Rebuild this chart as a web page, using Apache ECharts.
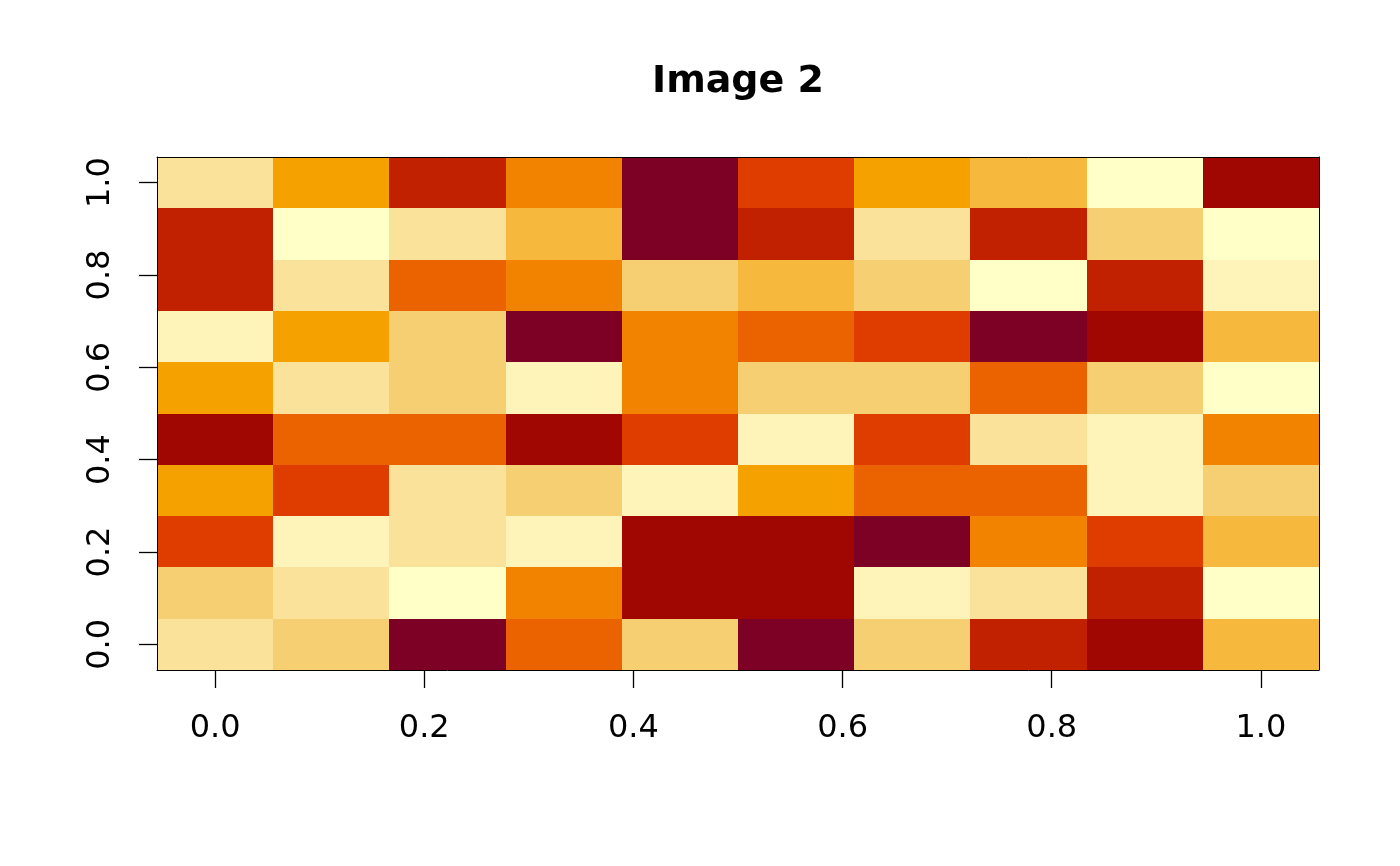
<!DOCTYPE html>
<html>
<head>
<meta charset="utf-8">
<script src="https://cdn.jsdelivr.net/npm/echarts@6/dist/echarts.min.js"></script>
<style>html,body{margin:0;padding:0;background:#fff}#c{width:1400px;height:866px}</style>
</head>
<body>
<div id="c"></div>
<script>
// Grid coordinates (R image(): 10 x 10 cells over [0,1])
const xValues = [0, 1/9, 2/9, 3/9, 4/9, 5/9, 6/9, 7/9, 8/9, 1];
const yValues = [0, 1/9, 2/9, 3/9, 4/9, 5/9, 6/9, 7/9, 8/9, 1];
// z levels (1 = darkest, 12 = palest); rows listed from y = 0 (bottom) to y = 1 (top)
const zRows = [
  [10, 9, 1, 5, 9, 1, 9, 3, 2, 8],
  [9, 10, 12, 6, 2, 2, 11, 10, 3, 12],
  [4, 11, 10, 11, 2, 2, 1, 6, 4, 8],
  [7, 4, 10, 9, 11, 7, 5, 5, 11, 9],
  [2, 5, 5, 2, 4, 11, 4, 10, 11, 6],
  [7, 10, 9, 11, 6, 9, 9, 5, 9, 12],
  [11, 7, 9, 1, 6, 5, 4, 1, 2, 8],
  [3, 10, 5, 6, 9, 8, 9, 12, 3, 11],
  [3, 12, 10, 8, 1, 3, 10, 3, 9, 12],
  [10, 7, 3, 6, 1, 4, 7, 8, 12, 2]
];
const palette = ['#7D0025', '#A10702', '#C22100', '#DF3C00', '#EB6200', '#F28300',
                 '#F5A200', '#F7B93D', '#F6CF73', '#FAE29A', '#FEF3B8', '#FFFFC8'];
const tickValues = [0, 0.2, 0.4, 0.6, 0.8, 1.0];
const titleText = 'Image 2';

const data = [];
for (let j = 0; j < yValues.length; j++) {
  for (let i = 0; i < xValues.length; i++) {
    data.push([xValues[i], yValues[j], zRows[j][i]]);
  }
}
const half = 1 / 18;
const FONT = 'DejaVu Sans';

const chart = echarts.init(document.getElementById('c'), null, {renderer: 'canvas'});
const axisCommon = {
  type: 'value', min: -half, max: 1 + half, z: 5,
  splitLine: {show: false}
};
chart.setOption({
  animation: false,
  backgroundColor: '#fff',
  title: {
    text: titleText, left: 733, top: 58, textAlign: 'center',
    textStyle: {fontFamily: FONT, fontWeight: 'bold', fontSize: 38, color: '#000'}
  },
  grid: {left: 157, right: 81, top: 157, bottom: 196, containLabel: false},
  visualMap: {
    type: 'piecewise', show: false, dimension: 2, seriesIndex: 0,
    pieces: palette.map((c, k) => ({value: k + 1, color: c}))
  },
  xAxis: [
    Object.assign({}, axisCommon, {
      position: 'bottom',
      axisLine: {show: true, onZero: false, lineStyle: {color: '#000', width: 1}},
      axisTick: {show: true, length: 18, lineStyle: {color: '#000', width: 1.3}, customValues: tickValues},
      axisLabel: {show: true, margin: 43, fontFamily: FONT, fontSize: 32, color: '#000',
        customValues: tickValues, formatter: v => v.toFixed(1)}
    }),
    Object.assign({}, axisCommon, {
      position: 'top',
      axisLine: {show: true, onZero: false, lineStyle: {color: '#000', width: 1}},
      axisTick: {show: false}, axisLabel: {show: false}
    })
  ],
  yAxis: [
    Object.assign({}, axisCommon, {
      position: 'left',
      axisLine: {show: true, onZero: false, lineStyle: {color: '#000', width: 1}},
      axisTick: {show: true, length: 18, lineStyle: {color: '#000', width: 1.3}, customValues: tickValues},
      axisLabel: {show: true, margin: 40, rotate: 90, fontFamily: FONT, fontSize: 32, color: '#000',
        customValues: tickValues, formatter: v => v.toFixed(1)}
    }),
    Object.assign({}, axisCommon, {
      position: 'right',
      axisLine: {show: true, onZero: false, lineStyle: {color: '#000', width: 1}},
      axisTick: {show: false}, axisLabel: {show: false}
    })
  ],
  series: [{
    type: 'custom',
    xAxisIndex: 0, yAxisIndex: 0,
    data: data,
    encode: {x: 0, y: 1},
    renderItem: function (params, api) {
      const x = api.value(0), y = api.value(1);
      const p0 = api.coord([x - half, y + half]);
      const p1 = api.coord([x + half, y - half]);
      const l = Math.round(p0[0]), r = Math.round(p1[0]);
      const t = Math.round(p0[1]), b = Math.round(p1[1]);
      return {
        type: 'rect',
        shape: {x: l, y: t, width: r - l, height: b - t},
        style: {fill: api.visual('color'), stroke: null}
      };
    }
  }]
});
</script>
</body>
</html>
